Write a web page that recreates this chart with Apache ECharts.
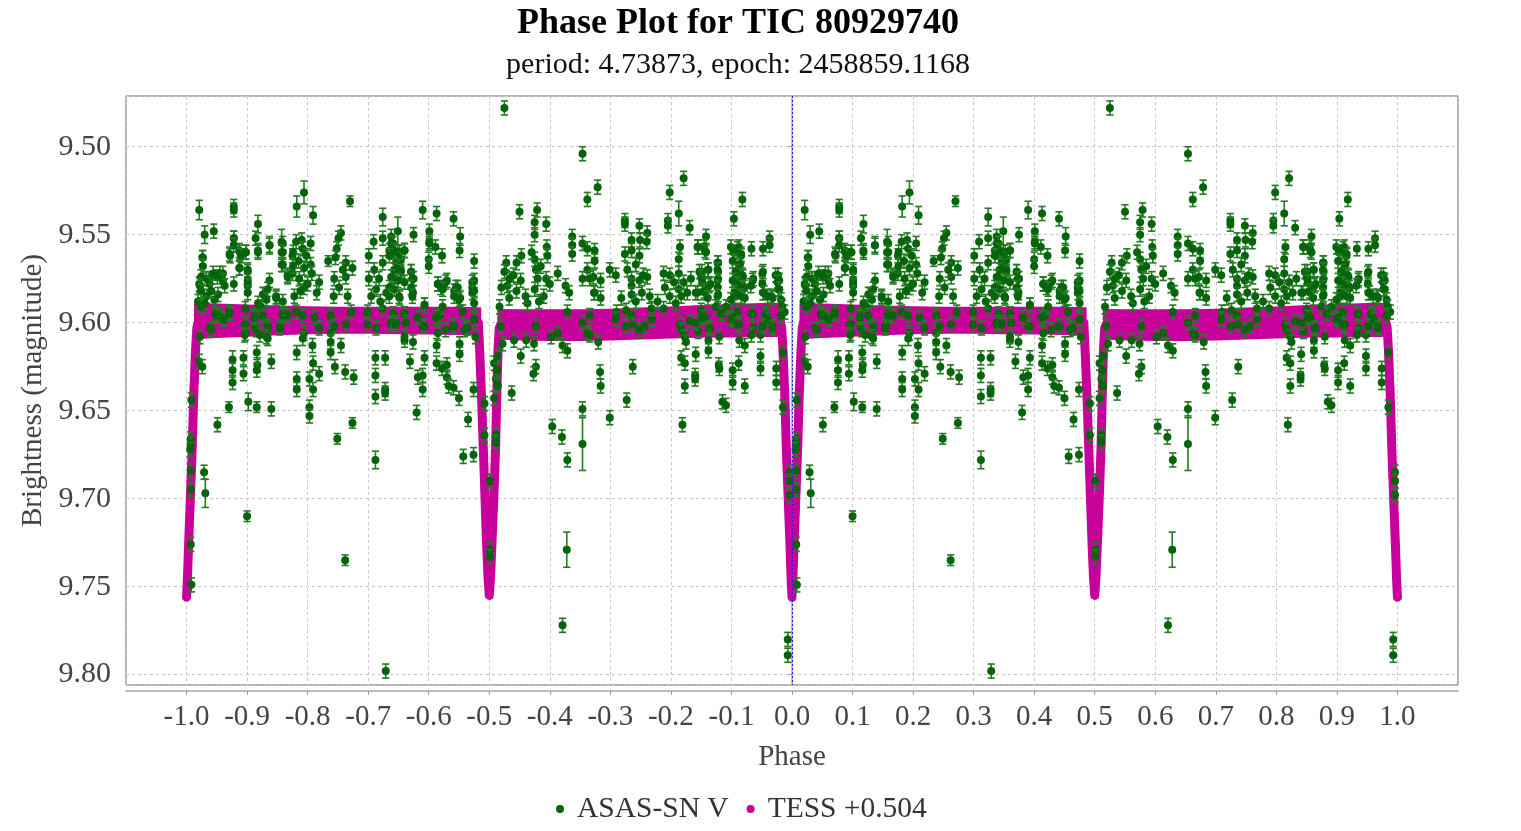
<!DOCTYPE html>
<html>
<head>
<meta charset="utf-8">
<script src="https://cdn.jsdelivr.net/npm/echarts@6/dist/echarts.min.js"></script>
<style>
html,body{margin:0;padding:0;background:#fff;}
#chart{width:1521px;height:831px;}
</style>
</head>
<body>
<div id="chart"></div>
<script>
// ---------------- DATA ----------------
// ASAS-SN V points, phase folded into [0,1): [phase, magnitude, error(optional, default 0.004)]
const asasPoints = [
// 0.00 - 0.10
[0.007,9.666],[0.007,9.669],[0.006,9.672],[0.007,9.684],[0.007,9.695],[0.007,9.726],[0.008,9.749],[0.008,9.644],
[0.021,9.536,0.0055],[0.030,9.550,0.005],[0.045,9.548],[0.027,9.563],[0.021,9.578],[0.037,9.575],[0.051,9.574],[0.060,9.572],
[0.078,9.534],[0.078,9.536],[0.078,9.552],[0.072,9.562],[0.078,9.578],[0.087,9.559],[0.087,9.569],[0.098,9.560],
[0.048,9.595],[0.062,9.598],[0.070,9.594],[0.039,9.603,0.003],[0.097,9.592],[0.097,9.601],[0.097,9.606],
[0.022,9.608],[0.021,9.622],[0.026,9.625],[0.029,9.685],[0.031,9.697,0.008],[0.076,9.621,0.005],[0.076,9.627],[0.076,9.634],
[0.094,9.620],[0.094,9.629],[0.070,9.648,0.003],[0.051,9.658],[0.100,9.710,0.003],
// 0.10 - 0.34
[0.101,9.571],[0.101,9.578],[0.118,9.544,0.005],[0.114,9.552],[0.118,9.559],[0.137,9.556,0.005],[0.137,9.576],[0.128,9.584],
[0.157,9.554,0.007],[0.157,9.560],[0.157,9.567],[0.148,9.585],[0.182,9.534,0.006],[0.194,9.526,0.0065],[0.209,9.539,0.005],
[0.181,9.554],[0.190,9.553],[0.205,9.555],[0.192,9.558],[0.175,9.562],[0.194,9.569],[0.205,9.567],[0.167,9.573],[0.175,9.572],
[0.194,9.580],[0.219,9.577],[0.178,9.585],[0.234,9.565,0.003],[0.255,9.549],[0.251,9.552],[0.248,9.558],[0.244,9.575],
[0.263,9.566],[0.274,9.569],[0.270,9.531,0.003],[0.263,9.574],[0.324,9.540,0.005],[0.309,9.554],[0.324,9.552],[0.301,9.562],
[0.310,9.570],[0.324,9.566],[0.338,9.555],[0.335,9.559],[0.301,9.575],[0.313,9.581],
[0.113,9.596],[0.113,9.602],[0.134,9.602],[0.155,9.602],[0.159,9.595],[0.181,9.594],[0.192,9.596],[0.194,9.606],[0.211,9.597],
[0.219,9.603],[0.238,9.596],[0.238,9.606],[0.244,9.602],[0.263,9.601],[0.272,9.594],[0.299,9.594],[0.299,9.601],[0.313,9.603],
[0.324,9.592],[0.338,9.601],
[0.102,9.645,0.005],[0.116,9.648,0.003],[0.116,9.617],[0.117,9.624],[0.116,9.627],[0.134,9.609],[0.140,9.622],[0.140,9.649],
[0.182,9.617],[0.182,9.632],[0.182,9.638],[0.192,9.609],[0.203,9.632],[0.203,9.648],[0.203,9.653],[0.208,9.613],[0.209,9.623],
[0.209,9.638],[0.219,9.629],[0.238,9.611],[0.238,9.617],[0.245,9.625],[0.249,9.666,0.003],[0.255,9.613],[0.262,9.628],
[0.276,9.631],[0.274,9.657,0.003],[0.312,9.620],[0.312,9.630],[0.312,9.642],[0.328,9.620],[0.328,9.638],[0.328,9.640],
[0.312,9.678,0.005],[0.262,9.735,0.003],[0.329,9.798],
// 0.34 - 0.50
[0.349,9.548,0.008],[0.341,9.555],[0.343,9.560],[0.352,9.560],[0.360,9.559],[0.346,9.566],[0.354,9.570],[0.341,9.574],
[0.375,9.550],[0.371,9.571],[0.375,9.575],[0.374,9.583],[0.390,9.536,0.005],[0.413,9.538],[0.441,9.541],[0.401,9.548],
[0.401,9.554],[0.411,9.557],[0.422,9.562],[0.400,9.564],[0.400,9.568],[0.452,9.551,0.005],[0.451,9.559],[0.475,9.565],
[0.415,9.578],[0.420,9.580],[0.430,9.576],[0.442,9.582],[0.448,9.580],[0.452,9.586],[0.475,9.576],[0.475,9.582],
[0.393,9.590],[0.352,9.586],
[0.341,9.595],[0.360,9.595],[0.382,9.597],[0.390,9.602],[0.346,9.600],[0.418,9.596],[0.440,9.602],[0.463,9.603],
[0.475,9.598],[0.456,9.594],[0.423,9.591],
[0.360,9.610],[0.374,9.611],[0.369,9.622],[0.382,9.631],[0.390,9.630],[0.390,9.638],[0.393,9.620],[0.380,9.651],
[0.413,9.613],[0.413,9.623],[0.422,9.626],[0.430,9.624],[0.430,9.631],[0.433,9.636],[0.441,9.637],[0.451,9.612],
[0.451,9.618],[0.450,9.643],[0.465,9.655],[0.474,9.638],[0.457,9.676],[0.474,9.675],[0.477,9.608],[0.492,9.646],
[0.492,9.664],[0.501,9.690],[0.501,9.729],[0.501,9.733],
// 0.50 - 0.68
[0.550,9.537],[0.579,9.536],[0.575,9.543],[0.575,9.550],[0.594,9.544],[0.595,9.557],[0.596,9.562],[0.553,9.562],
[0.528,9.566],[0.540,9.573],[0.552,9.576],[0.525,9.571],[0.530,9.579],[0.575,9.564],[0.577,9.570],[0.580,9.575],
[0.575,9.581],[0.594,9.575],[0.613,9.572],[0.626,9.579],[0.632,9.583],[0.637,9.551],[0.637,9.556],[0.637,9.561],
[0.654,9.555],[0.662,9.558],[0.654,9.504],[0.662,9.530],[0.679,9.523],[0.525,9.478],[0.662,9.570],[0.654,9.575],
[0.672,9.574],[0.673,9.583],[0.533,9.586],[0.517,9.591],[0.563,9.589],
[0.577,9.602],[0.613,9.606],[0.654,9.600],[0.662,9.606],[0.629,9.594],
[0.508,9.623],[0.511,9.632],[0.513,9.627],[0.514,9.636],[0.508,9.643],[0.511,9.664],[0.511,9.668],[0.514,9.619],
[0.522,9.612],[0.519,9.602],[0.537,9.640],[0.541,9.610],[0.552,9.619],[0.561,9.610],[0.574,9.612],[0.577,9.625],
[0.573,9.629],[0.602,9.608],[0.604,9.659],[0.620,9.665],[0.629,9.678],[0.621,9.613],[0.629,9.616],[0.654,9.649],
[0.654,9.669,0.015],[0.621,9.772],[0.628,9.729,0.010],
// 0.66 - 1.00
[0.674,9.559],[0.674,9.565],[0.666,9.575],[0.684,9.576],[0.674,9.583],[0.684,9.586],[0.699,9.570],[0.709,9.573],
[0.724,9.542],[0.724,9.544],[0.735,9.553],[0.748,9.545],[0.749,9.553],[0.761,9.549],[0.760,9.554],[0.724,9.561],
[0.735,9.559],[0.748,9.562],[0.735,9.575],[0.735,9.579],[0.735,9.584],[0.748,9.576],[0.754,9.573],[0.761,9.574],
[0.798,9.526],[0.821,9.518],[0.813,9.538,0.007],[0.795,9.542],[0.795,9.545],[0.831,9.546],[0.815,9.557],[0.813,9.564],
[0.788,9.572],[0.798,9.573],[0.813,9.572],[0.821,9.577],[0.813,9.581],[0.798,9.585],[0.817,9.585],[0.845,9.557],
[0.858,9.551],[0.856,9.559],[0.851,9.571],[0.862,9.570],[0.851,9.575],[0.865,9.578],[0.841,9.583],[0.856,9.583],
[0.878,9.566],[0.878,9.571],[0.878,9.575],[0.878,9.584],[0.904,9.541],[0.918,9.530],[0.903,9.560],[0.912,9.557],
[0.916,9.561],[0.914,9.567],[0.908,9.575],[0.919,9.574],[0.914,9.581],[0.933,9.558],[0.936,9.575],[0.952,9.558],
[0.963,9.552],[0.963,9.556],[0.952,9.571],[0.952,9.583],[0.966,9.585],[0.977,9.573],[0.979,9.576],[0.977,9.581],
[0.905,9.585],[0.922,9.586],
[0.710,9.594],[0.709,9.598],[0.726,9.593],[0.735,9.596],[0.737,9.601],[0.725,9.602],[0.748,9.604],[0.757,9.602],
[0.768,9.598],[0.768,9.592],[0.788,9.592],[0.815,9.601],[0.817,9.604],[0.831,9.599],[0.845,9.605],[0.856,9.597],
[0.865,9.603],[0.851,9.596],[0.885,9.595],[0.902,9.597],[0.913,9.601],[0.934,9.595],[0.936,9.603],[0.954,9.601],
[0.967,9.602],[0.957,9.596],[0.982,9.596],[0.988,9.594],[0.666,9.596],[0.666,9.607],
[0.680,9.611],[0.683,9.628],[0.684,9.636],[0.699,9.654],[0.737,9.625],[0.727,9.644],[0.823,9.608],[0.825,9.611],
[0.817,9.620],[0.823,9.623],[0.823,9.636],[0.819,9.658],[0.841,9.618],[0.840,9.630],[0.840,9.632],[0.862,9.610],
[0.862,9.616],[0.880,9.608],[0.879,9.624],[0.880,9.626],[0.885,9.645],[0.891,9.647],[0.902,9.627],[0.902,9.634],
[0.912,9.623],[0.913,9.610],[0.922,9.613],[0.922,9.636],[0.933,9.607],[0.948,9.607],[0.948,9.619],[0.948,9.626],
[0.974,9.626],[0.974,9.634],[0.985,9.617],[0.985,9.648],[0.996,9.685],[0.996,9.690],[0.996,9.698],
[0.993,9.780],[0.993,9.789]
];
// additional ASAS-SN points read from the crowded clusters just above the TESS plateau
const asasCrowded = [
// near phase 0.02 - 0.16
[0.078,9.552],[0.078,9.556],[0.071,9.561],[0.088,9.560],[0.090,9.562],[0.098,9.560],[0.088,9.569],[0.137,9.556],[0.118,9.560],
[0.159,9.555],[0.159,9.560],[0.159,9.567],[0.176,9.560],[0.176,9.568],[0.167,9.574],[0.026,9.563],[0.027,9.568],[0.024,9.574],
[0.033,9.575],[0.038,9.578],[0.044,9.572],[0.055,9.572],[0.060,9.576],[0.063,9.579],[0.052,9.584],[0.046,9.587],[0.022,9.579],
[0.024,9.582],[0.033,9.585],[0.019,9.588],[0.041,9.582],[0.030,9.589],[0.101,9.570],[0.101,9.576],[0.101,9.579],[0.101,9.583],
[0.134,9.581],[0.126,9.584],[0.132,9.587],[0.148,9.586],[0.159,9.588],[0.118,9.589],[0.123,9.591],
[0.024,9.591],[0.049,9.596],[0.055,9.596],[0.060,9.598],[0.071,9.595],[0.112,9.597],[0.126,9.596],[0.159,9.596],[0.167,9.596],
[0.041,9.604],[0.096,9.601],[0.115,9.604],[0.134,9.603],[0.154,9.603],[0.132,9.608],[0.096,9.607],[0.121,9.607],
// near phase 0.18 - 0.33
[0.185,9.565],[0.198,9.562],[0.186,9.575],[0.200,9.578],[0.215,9.583],[0.188,9.582],[0.207,9.572],
[0.246,9.563],[0.258,9.570],[0.252,9.580],[0.266,9.585],[0.243,9.585],
[0.305,9.585],[0.318,9.575],[0.320,9.588],[0.330,9.583],
// near phase 0.33 - 0.48
[0.338,9.551],[0.340,9.555],[0.343,9.559],[0.349,9.560],[0.335,9.562],[0.354,9.564],[0.360,9.559],[0.351,9.568],[0.343,9.570],
[0.354,9.571],[0.338,9.574],[0.349,9.576],[0.360,9.577],[0.371,9.571],[0.373,9.575],[0.335,9.580],[0.343,9.581],[0.351,9.585],
[0.371,9.580],[0.373,9.585],[0.335,9.585],[0.415,9.578],[0.428,9.577],[0.423,9.581],[0.445,9.580],[0.442,9.585],[0.450,9.587],
[0.472,9.577],[0.472,9.580],[0.472,9.583],[0.475,9.589],[0.401,9.555],[0.393,9.590],
[0.360,9.595],[0.362,9.600],[0.382,9.597],[0.393,9.602],[0.412,9.597],[0.415,9.606],[0.428,9.604],[0.442,9.602],[0.459,9.604],
[0.464,9.603],[0.475,9.598],[0.338,9.600],[0.346,9.601],[0.360,9.608],
// near phase 0.52 - 0.60
[0.533,9.575],[0.545,9.582],[0.560,9.585],[0.570,9.560],[0.585,9.568],[0.590,9.585],[0.600,9.578],[0.582,9.588],[0.545,9.566],
[0.520,9.580],
// near phase 0.72 - 0.83
[0.728,9.570],[0.742,9.567],[0.752,9.583],[0.765,9.585],[0.778,9.588],[0.790,9.580],[0.805,9.577],[0.808,9.589],[0.827,9.583],
[0.833,9.575],[0.742,9.588],[0.718,9.586],
// near phase 0.84 - 0.99
[0.844,9.557],[0.855,9.557],[0.858,9.560],[0.899,9.557],[0.905,9.560],[0.910,9.558],[0.916,9.562],[0.902,9.565],[0.913,9.567],
[0.907,9.571],[0.918,9.573],[0.902,9.576],[0.910,9.578],[0.921,9.580],[0.905,9.583],[0.916,9.585],[0.899,9.587],[0.877,9.566],
[0.877,9.570],[0.877,9.576],[0.877,9.580],[0.877,9.585],[0.847,9.571],[0.850,9.574],[0.852,9.577],[0.861,9.570],[0.863,9.579],
[0.855,9.582],[0.844,9.583],[0.861,9.586],[0.935,9.576],[0.932,9.579],[0.951,9.572],[0.951,9.578],[0.954,9.583],[0.960,9.585],
[0.968,9.586],[0.973,9.573],[0.976,9.577],[0.979,9.581],[0.982,9.587],[0.984,9.591],
[0.850,9.593],[0.852,9.597],[0.874,9.591],[0.883,9.595],[0.891,9.591],[0.910,9.594],[0.899,9.598],[0.910,9.601],[0.935,9.595],
[0.957,9.595],[0.960,9.598],[0.951,9.602],[0.968,9.603],[0.863,9.603],[0.841,9.600],[0.982,9.596]
];

// TESS (+0.504) light curve, centre line over one cycle [0,1]: [phase, magnitude]
const tessCurve = [
[0,9.756],[0.0015,9.745],[0.0035,9.725],[0.0068,9.695],[0.0095,9.670],[0.012,9.640],[0.015,9.615],[0.017,9.603],[0.02,9.599],
[0.1,9.599],[0.2,9.599],[0.3,9.5988],[0.4,9.599],[0.48,9.5992],
[0.482,9.600],[0.484,9.615],[0.487,9.640],[0.490,9.670],[0.4925,9.695],[0.4955,9.725],[0.498,9.745],[0.5,9.755],
[0.502,9.745],[0.5045,9.725],[0.508,9.695],[0.5105,9.670],[0.5125,9.640],[0.5145,9.615],[0.5165,9.603],[0.519,9.601],
[0.6,9.6014],[0.7,9.601],[0.8,9.600],[0.9,9.599],[0.98,9.5984],
[0.983,9.603],[0.985,9.615],[0.988,9.640],[0.9905,9.670],[0.9932,9.695],[0.9965,9.725],[0.9985,9.745],[1.0,9.756]
];
// TESS scatter envelope on the out-of-eclipse plateaus: [phase, upper edge, lower edge]
const tessBandA = [
[0.014,9.5895,9.6088],[0.05,9.5897,9.6082],[0.1,9.5902,9.6074],[0.15,9.5908,9.6066],[0.2,9.5912,9.6060],[0.25,9.5915,9.6058],
[0.3,9.5915,9.6058],[0.35,9.5915,9.6060],[0.4,9.5915,9.6062],[0.45,9.5915,9.6065],[0.485,9.5918,9.6065]
];
const tessBandB = [
[0.515,9.5928,9.6090],[0.55,9.5930,9.6095],[0.6,9.5930,9.6098],[0.65,9.5929,9.6098],[0.7,9.5926,9.6096],[0.75,9.5920,9.6090],
[0.8,9.5914,9.6084],[0.85,9.5906,9.6080],[0.9,9.5899,9.6078],[0.95,9.5894,9.6076],[0.986,9.5892,9.6076]
];

// ---------------- BUILD ----------------
const FONT = '"Liberation Serif", "Times New Roman", serif';
const GREEN = '#04640a';
const GREEN_BAR = '#237a23';
const MAGENTA = '#c8009b';

// phase plot shows each cycle twice: phase p and p-1
const asasData = [];
asasPoints.concat(asasCrowded).forEach(d => {
  const e = d.length > 2 ? d[2] : 0.004;
  asasData.push([d[0] - 1, d[1], e]);
  asasData.push([d[0], d[1], e]);
});
const tessLine = tessCurve.map(d => [d[0] - 1, d[1]]).concat(tessCurve.slice(1));
const tessBands = [];
[tessBandA, tessBandB].forEach(b => {
  tessBands.push(b.map(d => [d[0] - 1, d[1], d[2]]));
  tessBands.push(b);
});

const chart = echarts.init(document.getElementById('chart'), null, {renderer: 'canvas'});

const option = {
  backgroundColor: '#ffffff',
  animation: false,
  graphic: [
    {type: 'text', x: 738, y: 24, z: 10,
     style: {text: 'Phase Plot for TIC 80929740', font: 'bold 36px ' + FONT, fill: '#000', align: 'center', verticalAlign: 'middle'}},
    {type: 'text', x: 738, y: 65, z: 10,
     style: {text: 'period: 4.73873, epoch: 2458859.1168', font: '30px ' + FONT, fill: '#111', align: 'center', verticalAlign: 'middle'}}
  ],
  legend: {
    left: 551, top: 789,
    itemWidth: 8, itemHeight: 8, itemGap: 18,
    icon: 'circle',
    textStyle: {fontFamily: FONT, fontSize: 29.5, color: '#333', padding: [0, 0, 0, 8]},
    data: [{name: 'ASAS-SN V', icon: 'circle'}, {name: 'TESS +0.504', icon: 'circle'}]
  },
  grid: {
    left: 126, right: 63, top: 96, bottom: 146,
    show: true, borderColor: '#666', borderWidth: 1, backgroundColor: '#fff',
    containLabel: false, outerBoundsMode: 'none'
  },
  xAxis: {
    type: 'value', min: -1.1, max: 1.1, interval: 0.1, offset: 6,
    name: 'Phase', nameLocation: 'middle', nameGap: 52,
    nameTextStyle: {fontFamily: FONT, fontSize: 29, color: '#444'},
    axisLine: {show: true, lineStyle: {color: '#bdbdbd', width: 2}},
    axisTick: {show: true, length: 4, lineStyle: {color: '#999'}},
    axisLabel: {formatter: v => v.toFixed(1), fontFamily: FONT, fontSize: 29, color: '#444', margin: 12,
                showMinLabel: false, showMaxLabel: false},
    splitLine: {show: true, lineStyle: {color: '#c8c8c8', type: [3, 3], width: 1}}
  },
  yAxis: {
    type: 'value', inverse: true, min: 9.4712, max: 9.8059, splitNumber: 7, offset: 6,
    name: 'Brightness (magnitude)', nameLocation: 'middle', nameGap: 63,
    nameTextStyle: {fontFamily: FONT, fontSize: 29, color: '#444'},
    axisLine: {show: true, lineStyle: {color: '#bdbdbd', width: 2}},
    axisTick: {show: true, length: 4, lineStyle: {color: '#999'}},
    axisLabel: {formatter: v => v.toFixed(2), fontFamily: FONT, fontSize: 30, color: '#444', margin: 9,
                showMinLabel: false, showMaxLabel: false},
    splitLine: {show: true, lineStyle: {color: '#c8c8c8', type: [3, 3], width: 1}}
  },
  series: [
    {
      name: 'TESS +0.504',
      type: 'custom',
      itemStyle: {color: MAGENTA},
      data: [[0, 9.6]],
      encode: {x: 0, y: 1},
      silent: true,
      renderItem: function (params, api) {
        const children = [];
        tessBands.forEach(b => {
          const upper = b.map(d => api.coord([d[0], d[1]]));
          const lower = b.map(d => api.coord([d[0], d[2]])).reverse();
          children.push({type: 'polygon', shape: {points: upper.concat(lower)},
                         style: {fill: MAGENTA, stroke: MAGENTA, lineWidth: 2, lineJoin: 'round'}});
        });
        children.push({type: 'polyline', shape: {points: tessLine.map(d => api.coord(d))},
                       style: {stroke: MAGENTA, lineWidth: 9, lineCap: 'round', lineJoin: 'round', fill: null}});
        return {type: 'group', children: children};
      },
      z: 2
    },
    {
      name: 'ASAS-SN V',
      type: 'custom',
      itemStyle: {color: GREEN},
      data: asasData,
      dimensions: ['phase', 'mag', 'err'],
      encode: {x: 0, y: 1},
      silent: true,
      renderItem: function (params, api) {
        const p = api.value(0), m = api.value(1), e = api.value(2);
        const c = api.coord([p, m]);
        const t = api.coord([p, m - e]);
        const b = api.coord([p, m + e]);
        const cap = 3.6;
        const bar = {stroke: GREEN_BAR, lineWidth: 1.6};
        return {type: 'group', children: [
          {type: 'line', shape: {x1: c[0], y1: t[1], x2: c[0], y2: b[1]}, style: bar},
          {type: 'line', shape: {x1: c[0] - cap, y1: t[1], x2: c[0] + cap, y2: t[1]}, style: bar},
          {type: 'line', shape: {x1: c[0] - cap, y1: b[1], x2: c[0] + cap, y2: b[1]}, style: bar},
          {type: 'circle', shape: {cx: c[0], cy: c[1], r: 4}, style: {fill: GREEN}}
        ]};
      },
      markLine: {
        silent: true, symbol: 'none', animation: false,
        label: {show: false},
        lineStyle: {color: '#2020ff', type: [2, 2], width: 1},
        data: [{xAxis: 0}]
      },
      z: 3
    }
  ]
};
chart.setOption(option);
</script>
</body>
</html>
